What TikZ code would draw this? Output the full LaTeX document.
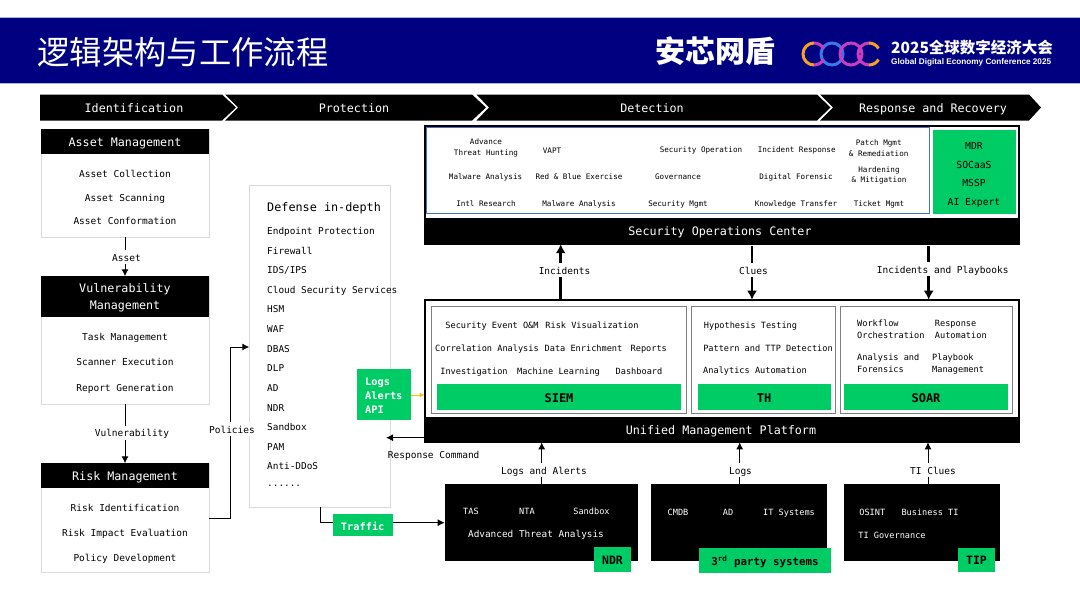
\documentclass[tikz,border=0pt]{standalone}
\usepackage{fontspec}
\usepackage{xcolor}
\usetikzlibrary{arrows.meta}
\setmainfont{DejaVu Sans Mono}
\newfontfamily\cjkfont{Noto Sans CJK SC}
\newfontfamily\logofont{Liberation Sans}
\newcommand{\sizeof}[2]{\fontsize{#1}{#2}\selectfont}

\begin{document}
\begin{tikzpicture}[x=1pt,y=-1pt,
    box/.style={anchor=north west,inner sep=0pt,outer sep=0pt},
    lightbox/.style={box,draw=colorline,fill=white,line width=0.8pt},
    blackbox/.style={box,fill=black},
    greenbox/.style={box,fill=colorgreen},
    greybox/.style={box,draw=colorgrey,fill=white,line width=1pt},
    oneline/.style={inner sep=0pt,text height=1em,text depth=0.2em},
    headtext/.style={oneline,text=white,font=\sizeof{11.7}{17}},
    itemtext/.style={oneline,font=\sizeof{9.5}{12}},
    defensetext/.style={oneline,anchor=west,font=\sizeof{9.4}{12}},
    soctext/.style={oneline,font=\sizeof{7.6}{10.5}},
    soclines/.style={inner sep=0pt,align=center,font=\sizeof{7.6}{10.5}},
    platformtext/.style={oneline,font=\sizeof{8.6}{12}},
    soartext/.style={inner sep=0pt,anchor=west,align=left,font=\sizeof{8.6}{12}},
    greentext/.style={oneline,font=\sizeof{11.5}{14}\bfseries},
    sourcetext/.style={oneline,text=white,font=\sizeof{8.6}{12}},
    linklabel/.style={oneline,inner sep=1pt,fill=white,font=\sizeof{9.5}{12}},
    thinlink/.style={line width=1pt,-{Latex[length=7pt,width=7pt]}},
    thicklink/.style={line width=2.6pt,-{Latex[length=9pt,width=10pt]}}]
  \definecolor{colorbanner}{RGB}{0,0,128}
  \definecolor{colorgreen}{RGB}{0,204,102}
  \definecolor{colorline}{RGB}{217,217,217}
  \definecolor{colorgrey}{RGB}{127,127,127}
  \definecolor{colorblue}{RGB}{68,114,196}
  \definecolor{colororange}{RGB}{255,192,0}
  \definecolor{colorlogoa}{RGB}{245,160,40}
  \definecolor{colorlogob}{RGB}{60,120,235}
  \definecolor{colorlogoc}{RGB}{200,60,190}

  \useasboundingbox (0,0) rectangle (1080,605);

  \fill[white] (0,0) rectangle (1080,605);
  \draw[fill=colorbanner,draw=colorblue!50,line width=0.6pt] (-2,17.3) rectangle (1082,83.7);
  \node[inner sep=0pt,text=white,font={\sizeof{32.3}{36}\cjkfont}] (title) at (183,52) {逻辑架构与工作流程};
  \node[inner sep=0pt,text=white,font={\sizeof{30}{34}\cjkfont\bfseries}] (brand) at (715,51) {安芯网盾};
  \node[inner sep=0pt,anchor=west,text=white,font={\sizeof{15.5}{18}\cjkfont\bfseries}] (confname) at (891,48) {2025全球数字经济大会};
  \node[inner sep=0pt,anchor=west,text=white,font={\sizeof{8.2}{10}\logofont\bfseries}] (confsub) at (891,62) {Global Digital Economy Conference 2025};

  \draw[colorlogob,line width=3pt] (832,54) circle (11);
  \draw[colorlogoc,line width=3pt] (851,54) circle (11);
  \draw[colorlogoa,line width=3pt] (814,43) arc (-90:-270:11);
  \draw[colorlogoc,line width=3pt] (814,43) arc (-90:-30:11);
  \draw[colorlogoc,line width=3pt] (814,65) arc (90:30:11);
  \draw[colorlogoc,line width=3pt] (869,43) arc (-90:-270:11);
  \draw[colorlogoa,line width=3pt] (869,43) arc (-90:-30:11);
  \draw[colorlogoa,line width=3pt] (869,65) arc (90:30:11);

  \fill[black] (40,94.5) -- (222,94.5) -- (236,107.5) -- (222,120.5) -- (40,120.5) -- cycle;
  \fill[black] (225,94.5) -- (472,94.5) -- (486,107.5) -- (472,120.5) -- (225,120.5) -- (238,107.5) -- cycle;
  \fill[black] (476.5,94.5) -- (817,94.5) -- (830.5,107.5) -- (817,120.5) -- (476.5,120.5) -- (489,107.5) -- cycle;
  \fill[black] (820,94.5) -- (1029,94.5) -- (1041,107.5) -- (1029,120.5) -- (820,120.5) -- (833,107.5) -- cycle;
  \node[headtext] (identification) at (134,108) {Identification};
  \node[headtext] (protection) at (354,108) {Protection};
  \node[headtext] (detection) at (652,108) {Detection};
  \node[headtext] (response) at (933,108) {Response and Recovery};

  \node[lightbox,minimum width=168pt,minimum height=108pt] (assetbox) at (41,129.3) {};
  \node[blackbox,minimum width=168pt,minimum height=24.7pt] (assethead) at (41,129.3) {};
  \node[headtext] (assettitle) at (125,142.5) {Asset Management};
  \node[itemtext] (assetone) at (125,173) {Asset Collection};
  \node[itemtext] (assettwo) at (125,197) {Asset Scanning};
  \node[itemtext] (assetthree) at (125,220) {Asset Conformation};

  \node[lightbox,minimum width=168pt,minimum height=128pt] (vulnbox) at (41,276.3) {};
  \node[blackbox,minimum width=168pt,minimum height=40.5pt] (vulnhead) at (41,276.3) {};
  \node[inner sep=0pt,text=white,align=center,font=\sizeof{11.7}{17}] (vulntitle) at (125,297.5) {Vulnerability\\Management};
  \node[itemtext] (vulnone) at (125,336) {Task Management};
  \node[itemtext] (vulntwo) at (125,361) {Scanner Execution};
  \node[itemtext] (vulnthree) at (125,387) {Report Generation};

  \node[lightbox,minimum width=168pt,minimum height=109pt] (riskbox) at (41,463.3) {};
  \node[blackbox,minimum width=168pt,minimum height=24.7pt] (riskhead) at (41,463.3) {};
  \node[headtext] (risktitle) at (125,476.5) {Risk Management};
  \node[itemtext] (riskone) at (125,507) {Risk Identification};
  \node[itemtext] (risktwo) at (125,532) {Risk Impact Evaluation};
  \node[itemtext] (riskthree) at (125,557) {Policy Development};

  \draw[thinlink] (assetbox.south) -- (vulnhead.north);
  \node[linklabel] (assetlabel) at (126.5,257) {Asset};
  \draw[thinlink] (vulnbox.south) -- (riskhead.north);
  \node[linklabel] (vulnlabel) at (132,432.5) {Vulnerability};

  \node[lightbox,minimum width=141.4pt,minimum height=321.6pt] (defensebox) at (249.3,185.7) {};
  \node[defensetext,font=\sizeof{11.8}{14}] (defensetitle) at (267,207) {Defense in-depth};
  \node[defensetext] (endpoint) at (267,230) {Endpoint Protection};
  \node[defensetext] (firewall) at (267,250) {Firewall};
  \node[defensetext] (idsips) at (267,269) {IDS/IPS};
  \node[defensetext] (cloud) at (267,289) {Cloud Security Services};
  \node[defensetext] (hsm) at (267,308) {HSM};
  \node[defensetext] (waf) at (267,328) {WAF};
  \node[defensetext] (dbas) at (267,348) {DBAS};
  \node[defensetext] (dlp) at (267,367) {DLP};
  \node[defensetext] (adone) at (267,387) {AD};
  \node[defensetext] (ndrone) at (267,407) {NDR};
  \node[defensetext] (sandboxone) at (267,426) {Sandbox};
  \node[defensetext] (pam) at (267,446) {PAM};
  \node[defensetext] (antiddos) at (267,465) {Anti-DDoS};
  \node[defensetext] (dots) at (267,482) {......};

  \coordinate (policybend) at (230,518);
  \coordinate (policyend) at (230,347);
  \draw[thinlink] (riskbox.east |- policybend) -- (policybend) -- (policyend) -- (defensebox.west |- policyend);
  \node[linklabel] (policylabel) at (232,429) {Policies};

  \node[blackbox,minimum width=193.6pt,minimum height=77pt] (ndrbox) at (444.7,484.3) {};
  \node[sourcetext] (tas) at (471,510.5) {TAS};
  \node[sourcetext] (nta) at (527,510.5) {NTA};
  \node[sourcetext] (sandboxtwo) at (591.5,510.5) {Sandbox};
  \node[sourcetext,font=\sizeof{9.4}{12}] (threat) at (536,533.5) {Advanced Threat Analysis};
  \node[greenbox,minimum width=37pt,minimum height=24.7pt] (ndrtag) at (594,547.3) {};
  \node[greentext] (ndrname) at (612.5,560) {NDR};

  \node[blackbox,minimum width=176pt,minimum height=77pt] (thirdbox) at (651.3,484.3) {};
  \node[sourcetext] (cmdb) at (678,511) {CMDB};
  \node[sourcetext] (adtwo) at (728,511) {AD};
  \node[sourcetext] (itsystems) at (789,511) {IT Systems};
  \node[greenbox,minimum width=131.7pt,minimum height=24.7pt] (thirdtag) at (699.3,548.3) {};
  \node[greentext,font=\sizeof{10.8}{14}\bfseries] (thirdname) at (765,561) {3\textsuperscript{rd} party systems};

  \node[blackbox,minimum width=155.4pt,minimum height=77pt] (tipbox) at (844.3,484.3) {};
  \node[sourcetext] (osint) at (872.3,511) {OSINT};
  \node[sourcetext] (business) at (930,511) {Business TI};
  \node[sourcetext] (tigov) at (892,534.5) {TI Governance};
  \node[greenbox,minimum width=37.6pt,minimum height=24.7pt] (tiptag) at (957.7,547.5) {};
  \node[greentext] (tipname) at (976.5,560) {TIP};

  \node[greenbox,minimum width=59.5pt,minimum height=22.3pt] (trafficbox) at (333,514) {};
  \node[greentext,text=white,font=\sizeof{10.3}{12}\bfseries] (traffic) at (362.7,526) {Traffic};
  \coordinate (trafficbend) at (320,522.7);
  \draw[line width=1pt] (defensebox.south -| trafficbend) -- (trafficbend) -- (trafficbox.west |- trafficbend);
  \draw[thinlink] (trafficbox.east |- trafficbend) -- (ndrbox.west |- trafficbend);

  \node[box,draw=colorblue,fill=white,line width=0.8pt,minimum width=503pt,minimum height=86.3pt] (socarea) at (426,127) {};
  \node[box,draw=black,line width=2pt,minimum width=594pt,minimum height=118pt] (socbox) at (424.5,126) {};
  \node[blackbox,minimum width=594pt,minimum height=26.5pt] (sochead) at (424.5,217.7) {};
  \node[headtext] (soctitle) at (720,231) {Security Operations Center};
  \node[greenbox,minimum width=83.3pt,minimum height=84.3pt] (socgreen) at (932.7,130) {};
  \node[itemtext,font=\sizeof{9.7}{12}] (mdr) at (974,145) {MDR};
  \node[itemtext,font=\sizeof{9.7}{12}] (socaas) at (974,164) {SOCaaS};
  \node[itemtext,font=\sizeof{9.7}{12}] (mssp) at (974,182) {MSSP};
  \node[itemtext,font=\sizeof{9.7}{12}] (aiexpert) at (974,201) {AI Expert};

  \node[soclines] (hunting) at (486,148) {Advance\\Threat Hunting};
  \node[soctext] (vapt) at (552,149) {VAPT};
  \node[soctext] (secop) at (701,148) {Security Operation};
  \node[soctext] (incresp) at (796.7,148) {Incident Response};
  \node[soclines] (patch) at (878.7,148) {Patch Mgmt\\\& Remediation};
  \node[soctext] (malwareone) at (485.6,175) {Malware Analysis};
  \node[soctext] (redblue) at (579,175) {Red \& Blue Exercise};
  \node[soctext] (governance) at (678,175) {Governance};
  \node[soctext] (forensic) at (796,175) {Digital Forensic};
  \node[soclines] (hardening) at (879,175.5) {Hardening\\\& Mitigation};
  \node[soctext] (intl) at (486,202) {Intl Research};
  \node[soctext] (malwaretwo) at (579,202) {Malware Analysis};
  \node[soctext] (secmgmt) at (678,202) {Security Mgmt};
  \node[soctext] (knowledge) at (796,202) {Knowledge Transfer};
  \node[soctext] (ticket) at (879,202) {Ticket Mgmt};

  \node[box,draw=black,fill=white,line width=2pt,minimum width=594pt,minimum height=142.6pt] (platformbox) at (424.5,299.7) {};
  \node[blackbox,minimum width=594pt,minimum height=25.6pt] (platformhead) at (424.5,416.7) {};
  \node[headtext] (platformtitle) at (721,430) {Unified Management Platform};

  \node[greybox,minimum width=254.3pt,minimum height=106.6pt] (siembox) at (431.7,306.7) {};
  \node[greenbox,minimum width=243.7pt,minimum height=25.7pt] (siemgreen) at (437,384.3) {};
  \node[greentext,font=\sizeof{12}{14}\bfseries] (siemname) at (559,398) {SIEM};
  \node[platformtext] (eventom) at (492,324.5) {Security Event O\&M};
  \node[platformtext] (riskvis) at (592,324.5) {Risk Visualization};
  \node[platformtext] (correlation) at (487,347.5) {Correlation Analysis};
  \node[platformtext] (enrichment) at (583.5,347.5) {Data Enrichment};
  \node[platformtext] (reports) at (648.8,347.5) {Reports};
  \node[platformtext] (investigation) at (474,370) {Investigation};
  \node[platformtext] (machine) at (558.5,370) {Machine Learning};
  \node[platformtext] (dashboard) at (639,370) {Dashboard};

  \node[greybox,minimum width=144pt,minimum height=106.6pt] (thbox) at (691.7,306.7) {};
  \node[greenbox,minimum width=133pt,minimum height=25.7pt] (thgreen) at (697.7,384.3) {};
  \node[greentext,font=\sizeof{12}{14}\bfseries] (thname) at (764,398) {TH};
  \node[platformtext] (hypothesis) at (750.5,324) {Hypothesis Testing};
  \node[platformtext] (pattern) at (768,347.5) {Pattern and TTP Detection};
  \node[platformtext] (analytics) at (755,369.5) {Analytics Automation};

  \node[greybox,minimum width=172.4pt,minimum height=106.6pt] (soarbox) at (840.3,306.7) {};
  \node[greenbox,minimum width=164pt,minimum height=25.7pt] (soargreen) at (844.3,384.3) {};
  \node[greentext,font=\sizeof{12}{14}\bfseries] (soarname) at (926,398) {SOAR};
  \node[soartext] (workflow) at (857,329.5) {Workflow\\Orchestration};
  \node[soartext] (automation) at (934.7,329.5) {Response\\Automation};
  \node[soartext] (analysis) at (857,363) {Analysis and\\Forensics};
  \node[soartext] (playbook) at (932,364) {Playbook\\Management};

  \node[greenbox,minimum width=54pt,minimum height=51pt] (logsbox) at (357,369.3) {};
  \node[inner sep=0pt,anchor=west,align=left,text=white,font=\sizeof{10.3}{14}\bfseries] (logstext) at (365,396) {Logs\\Alerts\\API};
  \coordinate (logsout) at (411,395);
  \draw[colororange,line width=1pt,-{Latex[length=5pt,width=5pt]}] (logsout) -- (platformbox.west |- logsout);

  \coordinate (commandout) at (386,437.7);
  \draw[thinlink] (platformbox.west |- commandout) -- (commandout);
  \node[linklabel,fill=none] (commandlabel) at (433.7,454) {Response Command};

  \coordinate (incidentsx) at (560.7,270);
  \coordinate (cluesx) at (752,270);
  \coordinate (playbooksx) at (928.7,270);
  \draw[thicklink] (platformbox.north -| incidentsx) -- (sochead.south -| incidentsx);
  \draw[thicklink] ([yshift=-2pt]sochead.south -| cluesx) -- (platformbox.north -| cluesx);
  \draw[thicklink] ([yshift=-2pt]sochead.south -| playbooksx) -- (platformbox.north -| playbooksx);
  \node[linklabel] (incidentslabel) at (564.5,270) {Incidents};
  \node[linklabel] (clueslabel) at (753.5,270) {Clues};
  \node[linklabel] (playbookslabel) at (942.7,269) {Incidents and Playbooks};

  \coordinate (alertsx) at (541.7,470);
  \coordinate (logsx) at (739.7,470);
  \coordinate (cluex) at (928,470);
  \draw[thinlink] (ndrbox.north -| alertsx) -- (platformbox.south -| alertsx);
  \draw[thinlink] (thirdbox.north -| logsx) -- (platformbox.south -| logsx);
  \draw[thinlink] (tipbox.north -| cluex) -- (platformbox.south -| cluex);
  \node[linklabel] (alertslabel) at (544,470) {Logs and Alerts};
  \node[linklabel] (logslabel) at (740.5,470) {Logs};
  \node[linklabel] (tilabel) at (933,470) {TI Clues};

\end{tikzpicture}
\end{document}
